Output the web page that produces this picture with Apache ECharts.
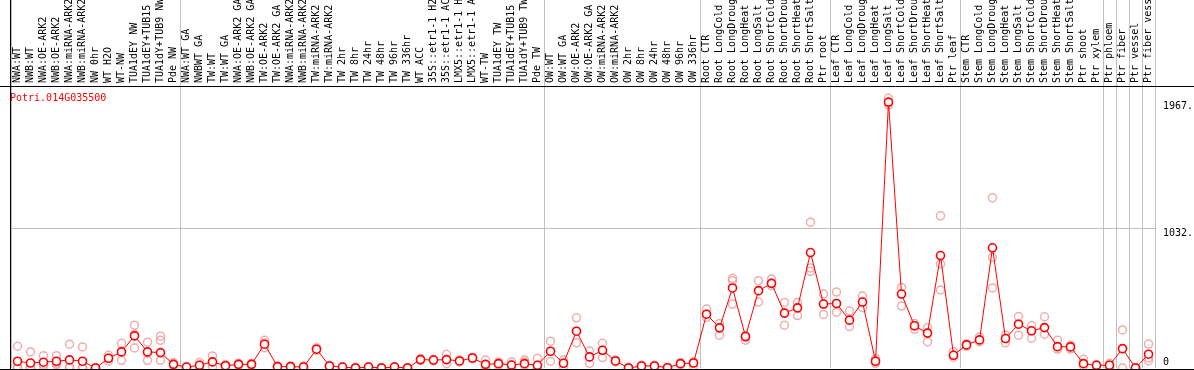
<!DOCTYPE html>
<html>
<head>
<meta charset="utf-8">
<script src="https://cdn.jsdelivr.net/npm/echarts@6/dist/echarts.min.js"></script>
<style>
  html, body { margin: 0; padding: 0; background: #fff; }
  #chart { width: 1194px; height: 370px; }
</style>
</head>
<body>
<div id="chart"></div>
<script>
// 样本名称（顶部竖排标签）
var categories = [
  'NWA:WT', 'NWB:WT', 'NWA:OE-ARK2', 'NWB:OE-ARK2', 'NWA:miRNA-ARK2', 'NWB:miRNA-ARK2', 'NW 0hr', 'WT H2O', 'WT-NW',
  'TUA1dEY NW', 'TUA1dEY+TUB15 NW', 'TUA1dY+TUB9 NW', 'Pde NW',
  'NWA:WT GA', 'NWBWT GA', 'TW:WT', 'TW:WT GA', 'NWA:OE-ARK2 GA', 'NWB:OE-ARK2 GA', 'TW:OE-ARK2', 'TW:OE-ARK2 GA',
  'NWA:miRNA-ARK2 GA', 'NWB:miRNA-ARK2 GA', 'TW:miRNA-ARK2', 'TW:miRNA-ARK2', 'TW 2hr', 'TW 8hr', 'TW 24hr', 'TW 48hr',
  'TW 96hr', 'TW 336hr', 'WT ACC', '35S::etr1-1 H2O', '35S::etr1-1 ACC', 'LMX5::etr1-1 H2O', 'LMX5::etr1-1 ACC',
  'WT-TW', 'TUA1dEY TW', 'TUA1dEY+TUB15 TW', 'TUA1dY+TUB9 TW', 'Pde TW',
  'OW:WT', 'OW:WT GA', 'OW:OE-ARK2', 'OW:OE-ARK2 GA', 'OW:miRNA-ARK2', 'OW:miRNA-ARK2', 'OW 2hr', 'OW 8hr', 'OW 24hr',
  'OW 48hr', 'OW 96hr', 'OW 336hr',
  'Root CTR', 'Root LongCold', 'Root LongDrought', 'Root LongHeat', 'Root LongSalt', 'Root ShortCold', 'Root ShortDrought',
  'Root ShortHeat', 'Root ShortSalt', 'Ptr root',
  'Leaf CTR', 'Leaf LongCold', 'Leaf LongDrought', 'Leaf LongHeat', 'Leaf LongSalt', 'Leaf ShortCold', 'Leaf ShortDrought',
  'Leaf ShortHeat', 'Leaf ShortSalt', 'Ptr leaf',
  'Stem CTR', 'Stem LongCold', 'Stem LongDrought', 'Stem LongHeat', 'Stem LongSalt', 'Stem ShortCold', 'Stem ShortDrought',
  'Stem ShortHeat', 'Stem ShortSalt', 'Ptr shoot', 'Ptr xylem',
  'Ptr phloem', 'Ptr fiber', 'Ptr vessel', 'Ptr fiber vessel'
];

// 分组分隔线所在的类目下标
var groupStarts = [0, 13, 41, 53, 63, 73, 84, 85, 86, 87, 88];

// 平均表达量
var meanValues = [
  50, 37, 43, 50, 60, 50, 0, 72, 119, 238, 119, 114, 27,
  7, 20, 45, 17, 27, 27, 176, 10, 10, 7, 139, 15, 7, 0, 7, 0, 7, 0, 62, 59, 62, 52, 74, 27, 32, 22, 32, 20,
  124, 35, 272, 82, 131, 52, 0, 15, 15, 2, 32, 37,
  398, 297, 592, 233, 572, 626, 406, 445, 854, 473,
  477, 354, 488, 50, 1967, 547, 312, 258, 832, 94,
  171, 208, 889, 218, 324, 275, 299, 158, 156, 32, 20,
  20, 143, 0, 102
];

// 重复样本
var repA = [
  161, 119, 91, 91, 176, 156, 0, 94, 183, 317, 191, 235, 40,
  10, 40, 89, 25, 35, 35, 205, 15, 15, 15, 150, 20, 10, 5, 10, 3, 10, 3, 70, 65, 101, 60, 80, 59, 45, 45, 59, 72,
  198, 59, 371, 126, 183, 60, 5, 20, 20, 5, 40, 45,
  436, 329, 663, 240, 646, 658, 485, 485, 1079, 547,
  562, 421, 532, 70, 1995, 596, 330, 299, 1126, 121,
  180, 230, 1260, 245, 381, 312, 379, 205, 170, 64, 25,
  35, 282, 0, 177
];
var repB = [
  10, 5, 27, 35, 10, 5, 0, 72, 117, 250, 110, 205, 27,
  5, 20, 45, 17, 27, 27, 185, 10, 10, 7, 139, 10, 7, 0, 7, 0, 7, 0, 62, 59, 62, 52, 74, 20, 32, 22, 45, 20,
  124, 35, 272, 82, 131, 52, 0, 15, 15, 2, 32, 37,
  398, 297, 646, 225, 572, 626, 406, 445, 740, 473,
  477, 354, 488, 50, 1945, 547, 312, 258, 770, 94,
  171, 208, 819, 218, 324, 275, 299, 158, 156, 32, 20,
  20, 143, 0, 74
];
var repC = [
  0, 0, 10, 25, 0, 0, 0, 50, 57, 148, 57, 57, 15,
  0, 5, 10, 10, 20, 20, 150, 5, 5, 0, 130, 5, 3, 0, 3, 0, 3, 0, 55, 52, 32, 45, 68, 0, 20, 0, 20, 5,
  50, 5, 186, 35, 77, 45, 0, 10, 10, 0, 25, 15,
  374, 243, 473, 206, 488, 610, 317, 388, 715, 396,
  413, 307, 448, 35, 1960, 458, 287, 195, 577, 80,
  160, 195, 592, 186, 243, 220, 250, 140, 140, 15, 10,
  10, 0, 0, 54
];

// 坐标轴刻度标签
var yTickValues = [0, 1032, 1967];

var FONT = 'DejaVu Sans Mono';

function isGroupStart(index) {
  return groupStarts.indexOf(index) >= 0;
}

function repSeries(values) {
  return {
    type: 'scatter',
    xAxisIndex: 0,
    yAxisIndex: 0,
    data: values,
    symbol: 'circle',
    symbolSize: 8,
    itemStyle: { color: 'rgba(255,255,255,0)', borderColor: '#eb9a9a', borderWidth: 1.5 },
    z: 2,
    silent: true
  };
}

var chartObj = echarts.init(document.getElementById('chart'));

var option = {
  animation: false,
  backgroundColor: '#fff',
  title: {
    text: 'Potri.014G035500',
    left: 10,
    top: 93,
    padding: 0,
    textStyle: { color: '#ff0000', fontFamily: FONT, fontSize: 10, fontWeight: 'normal' }
  },
  grid: [
    { left: 11, right: 39, top: 86, bottom: 2, containLabel: false, outerBoundsMode: 'none' },
    { left: 11, right: 39, top: 0, height: 86, containLabel: false, outerBoundsMode: 'none' }
  ],
  xAxis: [
    {
      type: 'category',
      gridIndex: 0,
      position: 'top',
      data: categories,
      boundaryGap: true,
      axisLine: { show: false },
      axisTick: { show: false },
      axisLabel: {
        interval: 0,
        rotate: 90,
        margin: 3,
        color: '#000',
        fontFamily: FONT,
        fontSize: 10
      },
      splitLine: { show: true, interval: isGroupStart, lineStyle: { color: '#c0c0c0', width: 1 } }
    },
    {
      type: 'category',
      gridIndex: 1,
      data: categories,
      boundaryGap: true,
      axisLine: { show: false },
      axisTick: { show: false },
      axisLabel: { show: false },
      splitLine: { show: true, interval: isGroupStart, lineStyle: { color: '#c0c0c0', width: 1 } }
    }
  ],
  yAxis: [
    {
      type: 'value',
      gridIndex: 0,
      position: 'right',
      min: 0,
      max: 2086,
      axisLine: { show: false },
      axisTick: { show: false },
      splitLine: { show: false },
      axisLabel: {
        customValues: yTickValues,
        margin: 8,
        formatter: function (v) {
          return v === 0 ? '{z|0}' : '{n|' + v + '.}';
        },
        rich: {
          n: { fontFamily: FONT, fontSize: 10, color: '#000', padding: [9, 0, 0, 0] },
          z: { fontFamily: FONT, fontSize: 10, color: '#000', padding: [0, 0, 12, 0] }
        }
      }
    },
    { type: 'value', gridIndex: 1, show: false }
  ],
  graphic: [
    { type: 'line', shape: { x1: 0, y1: 86.5, x2: 1194, y2: 86.5 }, style: { stroke: '#000', lineWidth: 1 }, z: 100 },
    { type: 'line', shape: { x1: 10.5, y1: 0, x2: 10.5, y2: 370 }, style: { stroke: '#000', lineWidth: 1 }, z: 100 },
    { type: 'line', shape: { x1: 0, y1: 369.5, x2: 1194, y2: 369.5 }, style: { stroke: '#000', lineWidth: 1 }, z: 100 }
  ],
  series: [
    repSeries(repA),
    repSeries(repB),
    repSeries(repC),
    {
      name: 'mean',
      type: 'line',
      xAxisIndex: 0,
      yAxisIndex: 0,
      data: meanValues,
      symbol: 'circle',
      symbolSize: 8,
      showAllSymbol: true,
      lineStyle: { color: '#ff0000', width: 1 },
      itemStyle: { color: '#ffffff', borderColor: '#ff0000', borderWidth: 1.6 },
      z: 5,
      markLine: {
        silent: true,
        symbol: ['none', 'none'],
        label: { show: false },
        lineStyle: { color: '#c0c0c0', type: 'solid', width: 1 },
        data: [{ yAxis: 1032 }],
        z: 1
      }
    }
  ]
};

chartObj.setOption(option);
</script>
</body>
</html>
